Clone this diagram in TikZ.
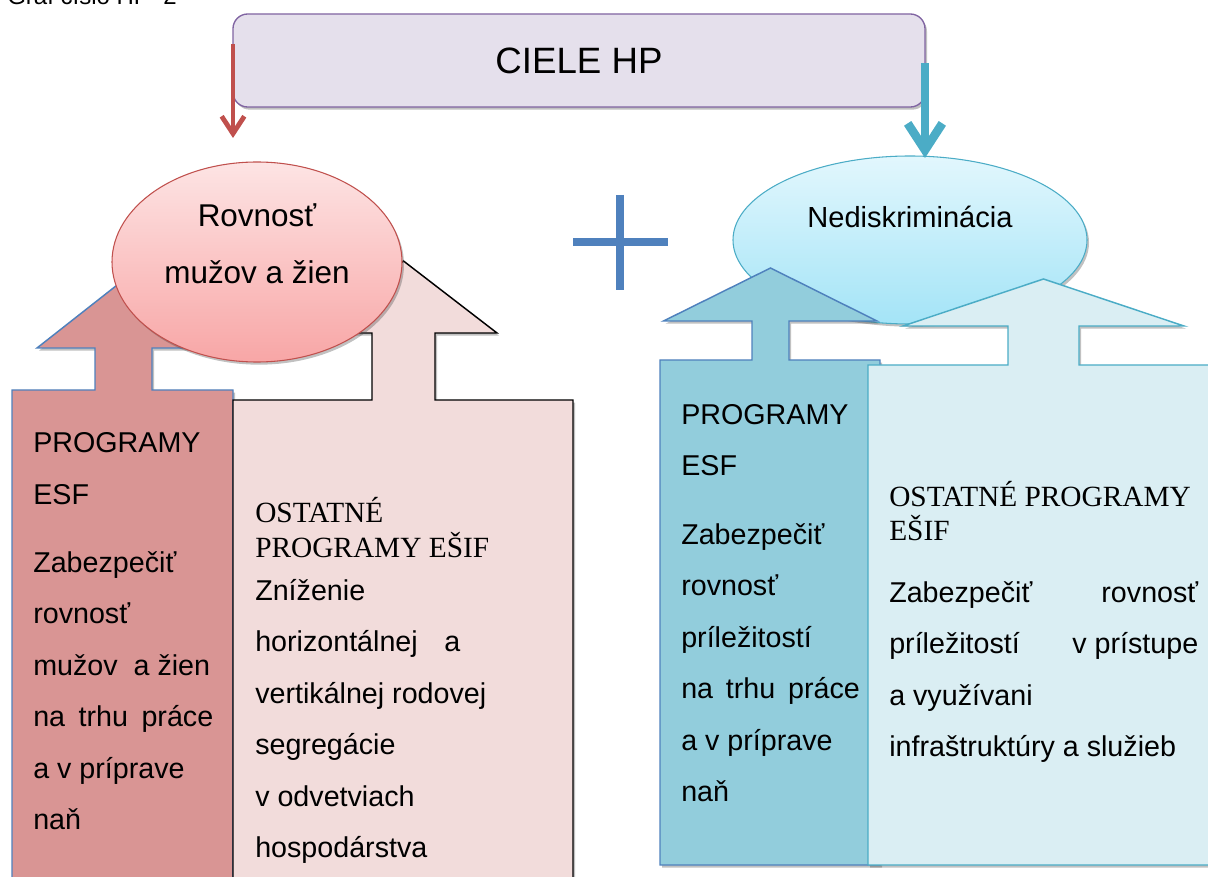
\documentclass[tikz,border=0pt]{standalone}
\usepackage{fontspec}
\setmainfont{Liberation Sans}
\newfontfamily\timesfont{Liberation Serif}
\usetikzlibrary{shapes.geometric, shadows, arrows.meta}

\definecolor{hpPurple}{HTML}{8064A2}
\definecolor{hpLilac}{HTML}{E5E0EC}
\definecolor{hpRed}{HTML}{C0504D}
\definecolor{hpAqua}{HTML}{4BACC6}
\definecolor{hpBlue}{HTML}{4F81BD}
\definecolor{roseTop}{HTML}{FDE4E4}
\definecolor{roseBot}{HTML}{F8A6A6}
\definecolor{skyTop}{HTML}{E2F7FD}
\definecolor{skyBot}{HTML}{A4E4F7}
\definecolor{esfRose}{HTML}{D99594}
\definecolor{ostRose}{HTML}{F2DCDB}
\definecolor{esfSky}{HTML}{92CDDC}
\definecolor{ostSky}{HTML}{DAEEF3}

\begin{document}
\begin{tikzpicture}[x=0.75pt, y=-0.75pt]
    	\tikzstyle{shad}=[drop shadow={shadow xshift=1.5pt, shadow yshift=-2pt, opacity=0.35, fill=black!70}]
    	\tikzstyle{goal}=[draw=hpPurple, fill=hpLilac, line width=1pt, rounded corners=11pt, minimum width=519pt, minimum height=69.75pt, font=\fontsize{27.5}{33}\selectfont, shad]
    	\tikzstyle{ellL}=[ellipse, draw=hpRed, line width=0.8pt, top color=roseTop, bottom color=roseBot, minimum width=217.5pt, minimum height=150pt, shad]
    	\tikzstyle{ellR}=[ellipse, draw=hpAqua, line width=0.8pt, top color=skyTop, bottom color=skyBot, minimum width=265.5pt, minimum height=126pt, shad]
    	\tikzstyle{etxt}=[inner sep=0pt, align=center]
    	% base of a multi-line node = baseline of its last line
    	\tikzstyle{body}=[anchor=base west, inner sep=0pt, align=left, font=\fontsize{21.5}{38.6}\selectfont]
    	\tikzstyle{head}=[anchor=base west, inner sep=0pt, align=left, font=\timesfont\fontsize{22}{26}\selectfont]
    	\tikzstyle{redarr}=[draw=hpRed, line width=3.6pt, -{Straight Barb[length=13pt, width=17pt]}]
    	\tikzstyle{aquaarr}=[draw=hpAqua, line width=6.5pt, -{Straight Barb[length=20pt, width=26pt]}]

    	\useasboundingbox (0,0) rectangle (1208,877);
    	\clip (0,0) rectangle (1208,877);

    	\node at (7, 5) [anchor=base west, inner sep=0pt, font=\fontsize{18}{20}\selectfont] (graf) {Graf číslo HP\ \ 2};

    	% Goal box
    	\node at (579, 60.5) [goal] (ciele) {CIELE HP};
    	\coordinate (cieleL) at (233, 44);
    	\coordinate (cieleR) at (925, 63);
    	\coordinate (rovTop) at (233, 138);
    	\coordinate (nedTop) at (925, 158);

    	% Left: equality of men and women
    	\filldraw [fill=esfRose, draw=hpBlue, line width=1.1pt, shad] (12, 890) -- (12, 390) -- (95, 390) -- (95, 348) -- (37, 348) -- (123.5, 280) -- (210, 348) -- (152, 348) -- (152, 390) -- (233, 390) -- (233, 890) -- cycle;
    	\filldraw [fill=ostRose, draw=black, line width=1.1pt, shad] (233, 890) -- (233, 400) -- (372, 400) -- (372, 333) -- (310, 333) -- (403.5, 261) -- (497, 333) -- (435, 333) -- (435, 400) -- (573, 400) -- (573, 890) -- cycle;
    	\node at (257, 262) [ellL] (rovnost) {};
    	\node at (257, 244) [etxt, font=\fontsize{23.6}{43}\selectfont] (rovnost_t) {Rovnosť\\mužov a žien};

    	\node at (33, 504) [body] (esfL_head) {PROGRAMY\\ESF};
    	\node at (33, 829.5) [body] (esfL_text) {Zabezpečiť\\rovnosť\\mužov\ \ a žien\\\makebox[135pt][s]{na\hfill trhu\hfill práce}\\a v príprave\\naň};
    	\node at (255, 557) [head] (ostL_head) {OSTATNÉ\\PROGRAMY EŠIF};
    	\node at (255, 857.5) [body] (ostL_text) {Zníženie\\\makebox[153.75pt][s]{horizontálnej\hfill a}\\vertikálnej rodovej\\segregácie\\v odvetviach\\hospodárstva};

    	% Plus
    	\draw [hpBlue, line width=6.5pt] (573, 242) -- (668, 242) (620, 195) -- (620, 290);

    	% Right: non-discrimination
    	\node at (910, 240) [ellR] (nediskr) {};
    	\node at (910, 217) [etxt, font=\fontsize{21.8}{26}\selectfont] (nediskr_t) {Nediskriminácia};
    	\filldraw [fill=esfSky, draw=hpBlue, line width=1.1pt, shad] (660, 865) -- (660, 360) -- (752, 360) -- (752, 321) -- (663.5, 321) -- (770.5, 268) -- (877, 321) -- (789, 321) -- (789, 360) -- (880, 360) -- (880, 865) -- cycle;
    	\filldraw [fill=ostSky, draw=hpAqua, line width=1.1pt, shad] (868, 865) -- (868, 365) -- (1008, 365) -- (1008, 326) -- (903, 326) -- (1043.5, 279) -- (1184, 326) -- (1079, 326) -- (1079, 365) -- (1220, 365) -- (1220, 865) -- cycle;

    	\node at (681, 476) [body] (esfR_head) {PROGRAMY\\ESF};
    	\node at (681, 801.5) [body] (esfR_text) {Zabezpečiť\\rovnosť\\príležitostí\\\makebox[134pt][s]{na\hfill trhu\hfill práce}\\a v príprave\\naň};
    	\node at (889, 541) [head, font=\timesfont\fontsize{22}{25.5}\selectfont] (ostR_head) {OSTATNÉ PROGRAMY\\EŠIF};
    	\node at (889, 756.5) [body] (ostR_text) {\makebox[231.75pt][s]{Zabezpečiť\hfill rovnosť}\\\makebox[231.75pt][s]{príležitostí\hfill v prístupe}\\a využívani\\infraštruktúry a služieb};

    	\draw [redarr] (cieleL) to (rovTop);
    	\draw [aquaarr] (cieleR) to (nedTop);

    \end{tikzpicture}
\end{document}
